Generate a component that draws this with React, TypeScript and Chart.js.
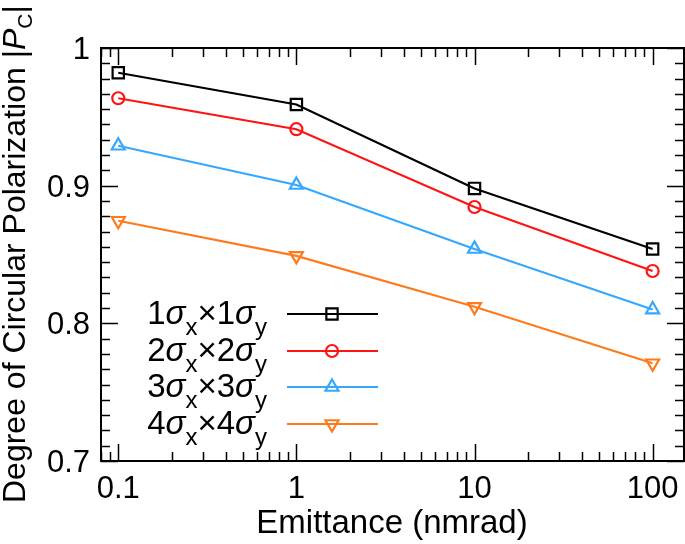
import React, { useEffect, useRef } from 'react';
import { Chart, registerables } from 'chart.js';

Chart.register(...registerables);

// ---- data ----
const emittance = [0.1, 1, 10, 100];
const pc1 = [0.982, 0.959, 0.898, 0.854];
const pc2 = [0.9635, 0.941, 0.8845, 0.838];
const pc3 = [0.929, 0.9005, 0.854, 0.81];
const pc4 = [0.8745, 0.849, 0.812, 0.771];
const seriesMult = ['1', '2', '3', '4'];
const xTickValues = [0.1, 1, 10, 100];
const xTickLabels = ['0.1', '1', '10', '100'];
const yTickValues = [0.7, 0.8, 0.9, 1];
const yTickLabels = ['0.7', '0.8', '0.9', '1'];
const xTitle = 'Emittance (nmrad)';
const yTitle = 'Degree of Circular Polarization |';

// ---- styles ----
const colors = ['#000000', '#ff1414', '#35a7ff', '#ff7a1c'];
const pointStyles = ['rect', 'circle', 'triangle', 'triangle'];
const pointRotations = [0, 0, 0, 180];
const pointRadii = [8, 6, 7.5, 7.5];
const FONT = "'Liberation Sans', Arial, Helvetica, sans-serif";

function drawMarker(ctx: CanvasRenderingContext2D, style: string, x: number, y: number, r: number, rot: number) {
  ctx.beginPath();
  if (style === 'rect') {
    const s = Math.SQRT1_2 * r;
    ctx.rect(x - s, y - s, 2 * s, 2 * s);
  } else if (style === 'circle') {
    ctx.arc(x, y, r, 0, Math.PI * 2);
  } else {
    let rad = (rot * Math.PI) / 180;
    ctx.moveTo(x + Math.sin(rad) * r, y - Math.cos(rad) * r);
    rad += (2 * Math.PI) / 3;
    ctx.lineTo(x + Math.sin(rad) * r, y - Math.cos(rad) * r);
    rad += (2 * Math.PI) / 3;
    ctx.lineTo(x + Math.sin(rad) * r, y - Math.cos(rad) * r);
    ctx.closePath();
  }
  ctx.stroke();
}

type Part = { t: string; italic?: boolean; sub?: boolean };

function partsWidth(ctx: CanvasRenderingContext2D, parts: Part[], size: number, subSize: number) {
  let w = 0;
  for (const p of parts) {
    ctx.font = `${p.italic ? 'italic ' : ''}${p.sub ? subSize : size}px ${FONT}`;
    w += ctx.measureText(p.t).width;
  }
  return w;
}

function drawParts(ctx: CanvasRenderingContext2D, parts: Part[], x: number, y: number, size: number, subSize: number, subShift: number) {
  let cx = x;
  for (const p of parts) {
    ctx.font = `${p.italic ? 'italic ' : ''}${p.sub ? subSize : size}px ${FONT}`;
    ctx.fillText(p.t, cx, p.sub ? y + subShift : y);
    cx += ctx.measureText(p.t).width;
  }
}

const customPlugin = {
  id: 'customAxes',
  afterDraw(chart: any) {
    const ctx: CanvasRenderingContext2D = chart.ctx;
    const { left, right, top, bottom } = chart.chartArea;
    const xs = chart.scales.x;
    const ys = chart.scales.y;
    ctx.save();
    ctx.strokeStyle = '#000';
    ctx.fillStyle = '#000';

    // x ticks (log, inside, mirrored)
    ctx.lineWidth = 1.5;
    for (let d = -2; d <= 2; d++) {
      for (let m = 1; m <= 9; m++) {
        const v = m * Math.pow(10, d);
        if (v < xs.min || v > xs.max) continue;
        const px = Math.round(xs.getPixelForValue(v)) + 0.5;
        const len = m === 1 ? 17 : 9;
        ctx.beginPath();
        ctx.moveTo(px, bottom);
        ctx.lineTo(px, bottom - len);
        ctx.moveTo(px, top);
        ctx.lineTo(px, top + len);
        ctx.stroke();
      }
    }
    // y ticks
    const yMinorStep = 0.1 / 9;
    for (let i = 0; i < yTickValues.length; i++) {
      const major = yTickValues[i];
      const py = Math.round(ys.getPixelForValue(major)) + 0.5;
      ctx.beginPath();
      ctx.moveTo(left, py);
      ctx.lineTo(left + 17, py);
      ctx.moveTo(right, py);
      ctx.lineTo(right - 17, py);
      ctx.stroke();
      if (i < yTickValues.length - 1) {
        for (let k = 1; k < 9; k++) {
          const v = major + k * yMinorStep;
          const pm = Math.round(ys.getPixelForValue(v)) + 0.5;
          ctx.beginPath();
          ctx.moveTo(left, pm);
          ctx.lineTo(left + 9, pm);
          ctx.moveTo(right, pm);
          ctx.lineTo(right - 9, pm);
          ctx.stroke();
        }
      }
    }

    // frame
    ctx.lineWidth = 2;
    ctx.strokeRect(left, top, right - left, bottom - top);

    // tick labels
    ctx.font = `31px ${FONT}`;
    ctx.textAlign = 'center';
    ctx.textBaseline = 'alphabetic';
    xTickValues.forEach((v, i) => {
      ctx.fillText(xTickLabels[i], xs.getPixelForValue(v), bottom + 37);
    });
    ctx.textAlign = 'right';
    yTickValues.forEach((v, i) => {
      ctx.fillText(yTickLabels[i], 90, ys.getPixelForValue(v) + 11);
    });

    // x title
    ctx.textAlign = 'center';
    ctx.font = `33px ${FONT}`;
    ctx.fillText(xTitle, 392, 533);

    // y title (rotated)
    ctx.save();
    ctx.translate(25, 503);
    ctx.rotate(-Math.PI / 2);
    ctx.textAlign = 'left';
    const yParts: Part[] = [
      { t: yTitle },
      { t: 'P', italic: true },
      { t: 'C', sub: true },
      { t: '|' },
    ];
    drawParts(ctx, yParts, 0, 0, 32, 21, 7);
    ctx.restore();

    // legend
    const rowY = [314, 351, 387, 424];
    ctx.textAlign = 'left';
    seriesMult.forEach((m, i) => {
      const parts: Part[] = [
        { t: m },
        { t: 'σ', italic: true },
        { t: 'x', sub: true },
        { t: '×' },
        { t: m },
        { t: 'σ', italic: true },
        { t: 'y', sub: true },
      ];
      const w = partsWidth(ctx, parts, 33, 24);
      ctx.fillStyle = '#000';
      drawParts(ctx, parts, 267 - w, rowY[i] + 10, 33, 24, 11);
      ctx.strokeStyle = colors[i];
      ctx.lineWidth = 2.2;
      ctx.beginPath();
      ctx.moveTo(287, rowY[i]);
      ctx.lineTo(378, rowY[i]);
      ctx.stroke();
      drawMarker(ctx, pointStyles[i], 332, rowY[i], pointRadii[i], pointRotations[i]);
    });

    ctx.restore();
  },
};

export default function App() {
  const ref = useRef<HTMLCanvasElement | null>(null);
  useEffect(() => {
    if (!ref.current) return;
    const series = [pc1, pc2, pc3, pc4];
    const chart = new Chart(ref.current, {
      type: 'scatter',
      data: {
        datasets: series.map((s, i) => ({
          label: `${seriesMult[i]}σx×${seriesMult[i]}σy`,
          data: emittance.map((x, j) => ({ x, y: s[j] })),
          showLine: true,
          borderColor: colors[i],
          borderWidth: 2.2,
          backgroundColor: 'rgba(0,0,0,0)',
          pointStyle: pointStyles[i] as any,
          pointRotation: pointRotations[i],
          pointRadius: pointRadii[i],
          pointBorderWidth: 2.2,
          pointBorderColor: colors[i],
          pointBackgroundColor: 'rgba(0,0,0,0)',
          tension: 0,
        })),
      },
      options: {
        animation: false,
        responsive: false,
        devicePixelRatio: 1,
        layout: { autoPadding: false, padding: { left: 101, right: 1, top: 48, bottom: 83 } },
        plugins: { legend: { display: false }, tooltip: { enabled: false } },
        scales: {
          x: { type: 'logarithmic', min: 0.08, max: 150, display: false },
          y: { type: 'linear', min: 0.7, max: 1, display: false },
        },
      },
      plugins: [customPlugin],
    });
    return () => chart.destroy();
  }, []);
  return (
    <div style={{ position: 'absolute', left: 0, top: 0, width: 685, height: 544, background: '#fff' }}>
      <canvas ref={ref} width={685} height={544} />
    </div>
  );
}
